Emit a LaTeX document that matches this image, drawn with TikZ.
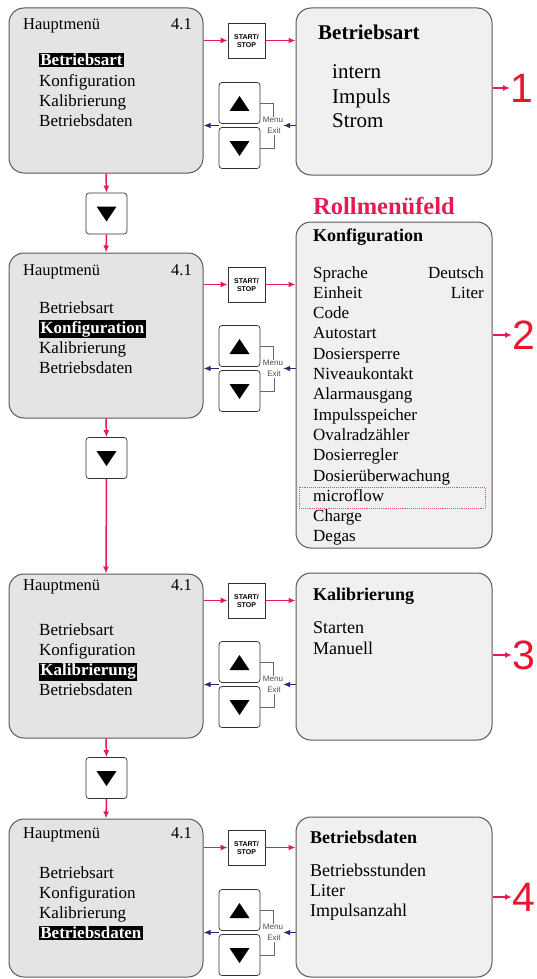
\documentclass[tikz,border=0pt]{standalone}
\usepackage{fontspec}
\setmainfont{Liberation Serif}
\newfontfamily\keyfont{Liberation Sans}
\usetikzlibrary{arrows.meta, positioning, calc}

\definecolor{flowred}{RGB}{228,28,82}
\definecolor{numred}{RGB}{232,22,48}
\definecolor{navyarrow}{RGB}{42,42,112}
\definecolor{screengray}{RGB}{228,228,228}
\definecolor{panelgray}{RGB}{240,240,240}

\setlength{\fboxsep}{1.2pt}

\tikzset{
  menubox/.style={draw=black!65, line width=1pt, rounded corners=15pt, fill=screengray, minimum width=194pt, inner sep=0pt},
  panelbox/.style={draw=black!65, line width=1pt, rounded corners=15pt, fill=panelgray, minimum width=196pt, inner sep=0pt},
  keybtn/.style={draw=black!80, line width=0.7pt, rounded corners=3pt, fill=white, minimum width=41pt, minimum height=41pt, inner sep=0pt},
  startbtn/.style={draw=black!80, line width=0.7pt, fill=white, minimum width=37pt, minimum height=35pt, inner sep=0pt, align=center, font=\keyfont\bfseries\fontsize{7}{8}\selectfont},
  redarrow/.style={draw=flowred, line width=1.5pt, -{Latex[length=7pt,width=6pt]}},
  navyarr/.style={draw=navyarrow, line width=1.2pt, -{Latex[length=7pt,width=5.5pt]}},
  bracket/.style={draw=black!60, line width=0.6pt},
  keylbl/.style={font=\keyfont\fontsize{8}{9}\selectfont, text=black!70, inner sep=0.5pt},
  headtxt/.style={font=\fontsize{16.5}{18}\selectfont, inner sep=0pt},
  itemtxt/.style={font=\fontsize{17}{20}\selectfont, inner sep=0pt, anchor=base west},
  titletxt/.style={font=\bfseries\fontsize{18}{21}\selectfont, inner sep=0pt, anchor=base west},
  paneltxt/.style={font=\fontsize{18}{21}\selectfont, inner sep=0pt, anchor=base west},
  cfgtxt/.style={font=\fontsize{17}{20}\selectfont, inner sep=0pt, anchor=base west},
  numtxt/.style={font=\keyfont\fontsize{41}{44}\selectfont, text=numred, inner sep=0pt, anchor=west}
}

\begin{document}
\begin{tikzpicture}[x=1pt, y=-1pt]
\useasboundingbox (0,0) rectangle (537,979);

% detail panels on the right
\node[panelbox, minimum height=167pt] (detail1) at (394,91.5) {};
\node[panelbox, minimum height=326pt] (detail2) at (394,385) {};
\node[panelbox, minimum height=167pt] (detail3) at (394,656.5) {};
\node[panelbox, minimum height=160pt] (detail4) at (394,897) {};

% panel 1: Betriebsart
\node[titletxt, font=\bfseries\fontsize{21}{24}\selectfont] (t1) at (318,40) {Betriebsart};
\foreach \itm [count=\k] in {intern,Impuls,Strom}
  \node[paneltxt, font=\fontsize{21}{24}\selectfont] (p1-\k) at (332,{79+(\k-1)*24.5}) {\itm};

% panel 2: Konfiguration (scroll field)
\node[anchor=base west, font=\bfseries\fontsize{24.5}{28}\selectfont, text=flowred, inner sep=0pt] (rollhead) at (313,214) {Rollmenüfeld};
\node[titletxt] (t2) at (313,241) {Konfiguration};
\foreach \itm [count=\k] in {Sprache,Einheit,Code,Autostart,Dosiersperre,Niveaukontakt,Alarmausgang,Impulsspeicher,Ovalradzähler,Dosierregler,Dosierüberwachung,microflow,Charge,Degas}
  \node[cfgtxt] (cfg\k) at (313,{278+(\k-1)*20.3}) {\itm};
\node[cfgtxt, anchor=base east] (cfgval1) at (484,278) {Deutsch};
\node[cfgtxt, anchor=base east] (cfgval2) at (484,298.3) {Liter};
\node[draw=flowred!80, densely dotted, line width=0.9pt, minimum width=186pt, minimum height=21pt, inner sep=0pt] (flowmark) at (392,497.5) {};

% panel 3: Kalibrierung
\node[titletxt] (t3) at (313,600) {Kalibrierung};
\node[paneltxt] (p3-1) at (313,633) {Starten};
\node[paneltxt] (p3-2) at (313,654) {Manuell};

% panel 4: Betriebsdaten
\node[titletxt] (t4) at (310,843) {Betriebsdaten};
\foreach \itm [count=\k] in {Betriebsstunden,Liter,Impulsanzahl}
  \node[paneltxt] (p4-\k) at (310,{876+(\k-1)*20}) {\itm};

% chapter numbers
\node[numtxt] (num1) at (510,88) {1};
\node[numtxt] (num2) at (512,335) {2};
\node[numtxt] (num3) at (512,655) {3};
\node[numtxt] (num4) at (512,897) {4};
\foreach \i in {1,...,4}
  \draw[redarrow] (detail\i.east |- num\i) -- (num\i.west);

% main menu rows
\foreach \i/\top/\h/\st/\up/\hd/\it in {1/8/165/23/83/25/61, 2/253/165/267/326/270/308, 3/574/164/583/642/585/630, 4/819/158/830/890/833/873} {
  \node[menubox, minimum height=\h pt] (menu\i) at (106,{\top+\h/2}) {};
  \node[headtxt, anchor=base west] (head\i) at (23,\hd+5) {Hauptmenü};
  \node[headtxt, anchor=base east] (ver\i) at (192,\hd+5) {4.1};
  \foreach \itm [count=\k] in {Betriebsart,Konfiguration,Kalibrierung,Betriebsdaten}
    \node[itemtxt] (m\i-\k) at (39,{\it+5+(\k-1)*20.3})
      {\ifnum\k=\i\colorbox{black}{\textcolor{white}{\bfseries\itm}}\else\itm\fi};
  % keys
  \node[startbtn] (start\i) at (246.5,\st+17.5) {START/\\STOP};
  \node[keybtn] (up\i) at (239.5,\up+20) {};
  \node[keybtn] (down\i) at (239.5,\up+65) {};
  \fill (up\i.center) ++(0,-7) -- ++(10,15) -- ++(-20,0) -- cycle;
  \fill (down\i.center) ++(0,8) -- ++(10,-15) -- ++(-20,0) -- cycle;
  \node[keylbl] (menulbl\i) at (273,\up+37) {Menu};
  \node[keylbl] (exitlbl\i) at (274,\up+48) {Exit};
  \draw[bracket] (up\i.east) -| (menulbl\i.north);
  \draw[bracket] (exitlbl\i.south) |- (down\i.east);
  % connectors
  \coordinate (back\i) at (283,\up+42.5);
  \draw[redarrow] (menu\i.east |- start\i) -- (start\i.west);
  \draw[redarrow] (start\i.east) -- (detail\i.west |- start\i);
  \draw[navyarr] (detail\i.west |- back\i) -- (back\i);
  \draw[navyarr] (up\i.west |- back\i) -- (menu\i.east |- back\i);
}

% scroll keys between the rows
\foreach \j/\y in {1/213.5, 2/458, 3/778} {
  \node[keybtn] (scroll\j) at (106.5,\y) {};
  \fill (scroll\j.center) ++(0,8) -- ++(10,-15) -- ++(-20,0) -- cycle;
}
\foreach \j [evaluate=\j as \n using int(\j+1)] in {1,2,3} {
  \draw[redarrow] (menu\j.south) -- (scroll\j.north);
  \draw[redarrow] (scroll\j.south) -- (menu\n.north);
}
\end{tikzpicture}
\end{document}
